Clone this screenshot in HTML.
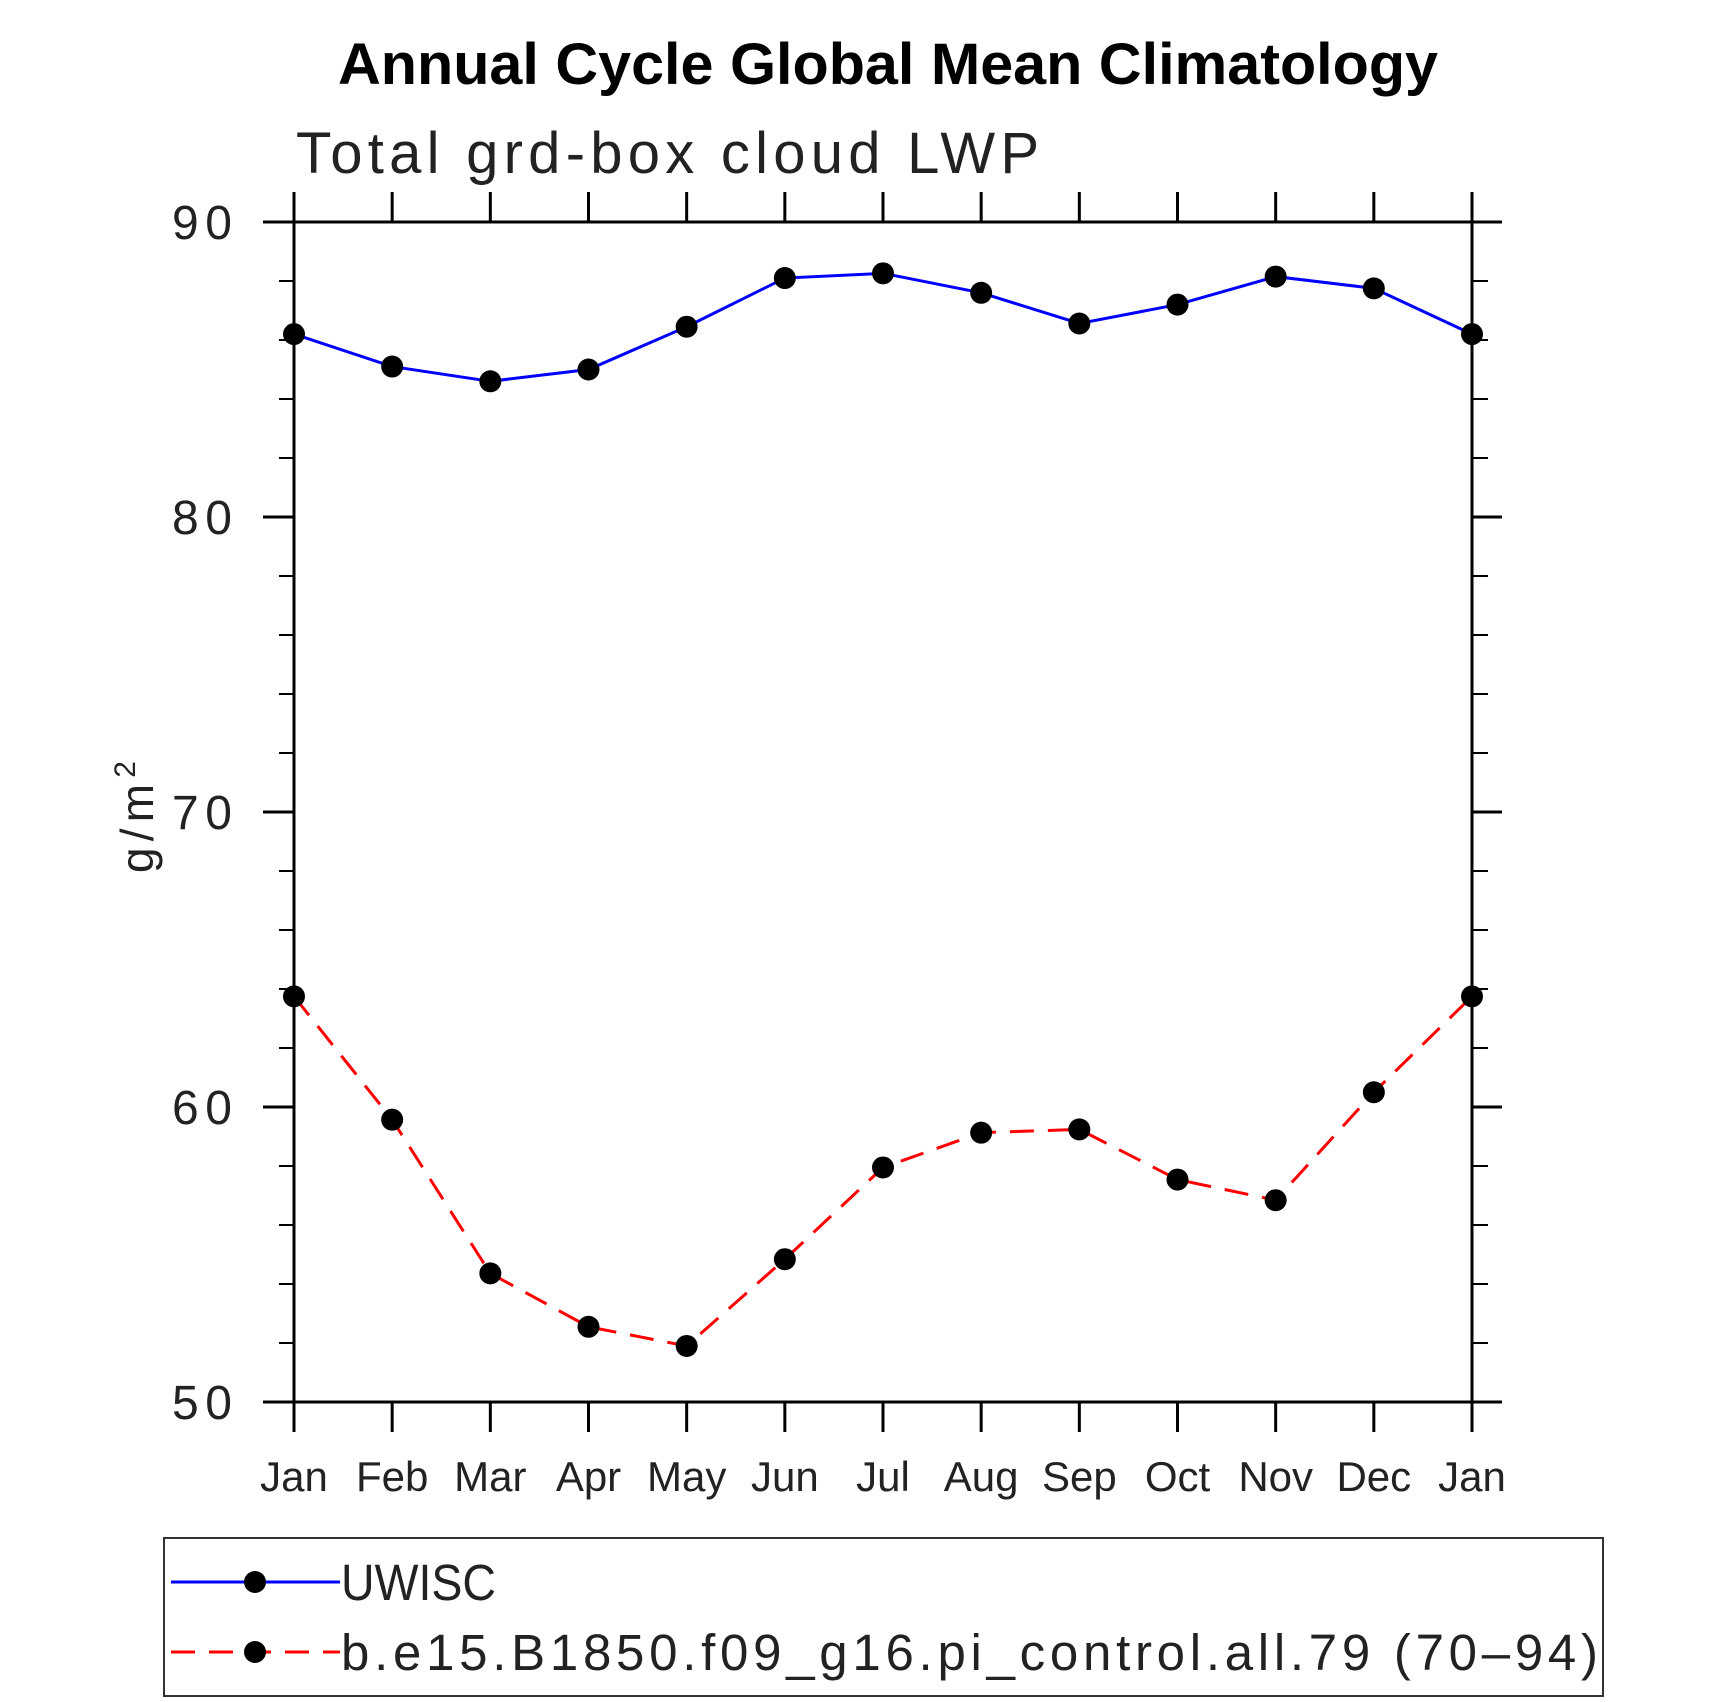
<!DOCTYPE html>
<html><head><meta charset="utf-8"><style>
html,body{margin:0;padding:0;background:#fff;}
svg{display:block;font-family:"Liberation Sans",sans-serif;}
</style></head><body>
<svg id="chart" width="1710" height="1702" viewBox="0 0 1710 1702">
<text x="888" y="84" text-anchor="middle" font-size="58" font-weight="bold" textLength="1100" lengthAdjust="spacingAndGlyphs">Annual Cycle Global Mean Climatology</text>
<text x="296" y="173" font-size="58" fill="#222" textLength="743" lengthAdjust="spacing">Total grd-box cloud LWP</text>
<text transform="translate(153,817) rotate(-90)" text-anchor="middle" font-size="46" fill="#222" textLength="112" lengthAdjust="spacing">g/m<tspan dy="-18" font-size="30">2</tspan></text>
<g id="axes"></g>
<g id="series"></g>
<rect x="164" y="1538" width="1439" height="158" fill="none" stroke="#333" stroke-width="2"/>
<g>
<line x1="171" y1="1582" x2="340" y2="1582" stroke="#0000ff" stroke-width="3"/>
<circle cx="255" cy="1582" r="11" fill="#000"/>
<text x="341" y="1600" font-size="51" fill="#222" textLength="155" lengthAdjust="spacingAndGlyphs">UWISC</text>
</g>
<g>
<line x1="171" y1="1652" x2="340" y2="1652" stroke="#ff0000" stroke-width="3" stroke-dasharray="24,14"/>
<circle cx="255" cy="1652" r="11" fill="#000"/>
<text x="341" y="1670" font-size="51" fill="#222" textLength="1257" lengthAdjust="spacing">b.e15.B1850.f09_g16.pi_control.all.79 (70–94)</text>
</g>
</svg>
<script>
const months = ["Jan","Feb","Mar","Apr","May","Jun","Jul","Aug","Sep","Oct","Nov","Dec","Jan"];
const uwisc = [86.2,85.1,84.6,85.0,86.45,88.1,88.26,87.6,86.56,87.2,88.15,87.75,86.2];
const model = [63.75,59.57,54.36,52.55,51.9,54.84,57.95,59.13,59.24,57.54,56.84,60.5,63.75];
const yTicks = [50,60,70,80,90];
const yMinorTicks = [52,54,56,58,62,64,66,68,72,74,76,78,82,84,86,88];

const NS="http://www.w3.org/2000/svg";
const L=294,R=1472,T=222,B=1402,yMin=50,yMax=90;
const xs=i=>L+(R-L)*i/(months.length-1);
const ys=v=>B-(v-yMin)/(yMax-yMin)*(B-T);
function mk(tag,attrs,parent){const e=document.createElementNS(NS,tag);for(const k in attrs)e.setAttribute(k,attrs[k]);parent.appendChild(e);return e;}
const axes=document.getElementById('axes');
const frame=mk('rect',{x:L,y:T,width:R-L,height:B-T,fill:'none',stroke:'#000','stroke-width':3},axes);


months.forEach((m,i)=>{
  const x=xs(i);
  const t1=mk('line',{x1:x,y1:B,x2:x,y2:B+30,stroke:'#000','stroke-width':3},axes);
  
  
  const t2=mk('line',{x1:x,y1:T,x2:x,y2:T-30,stroke:'#000','stroke-width':3},axes);
  
  
  const lb=mk('text',{x:x,y:1491,'text-anchor':'middle','font-size':42,fill:'#222'},axes);
  lb.textContent=m;
  
  
});
yTicks.forEach(v=>{
  const y=ys(v);
  const a=mk('line',{x1:L-31,y1:y,x2:L,y2:y,stroke:'#000','stroke-width':3},axes);
  
  
  const b=mk('line',{x1:R,y1:y,x2:R+30,y2:y,stroke:'#000','stroke-width':3},axes);
  
  
  const lb=mk('text',{x:232,y:y+17,'text-anchor':'end','font-size':48,fill:'#222',textLength:60,lengthAdjust:'spacing'},axes);
  lb.textContent=v;
  
  
});
yMinorTicks.forEach(v=>{
  const y=ys(v);
  const a=mk('line',{x1:L-15,y1:y,x2:L,y2:y,stroke:'#000','stroke-width':2},axes);
  
  
  const b=mk('line',{x1:R,y1:y,x2:R+16,y2:y,stroke:'#000','stroke-width':2},axes);
  
  
});
const sg=document.getElementById('series');
function drawSeries(vals,color,dash,name){
  const pts=vals.map((v,i)=>xs(i)+','+ys(v)).join(' ');
  const pl=mk('polyline',{points:pts,fill:'none',stroke:color,'stroke-width':3},sg);
  if(dash)pl.setAttribute('stroke-dasharray',dash);
  
  
  vals.forEach((v,i)=>{
    const c=mk('circle',{cx:xs(i),cy:ys(v),r:11,fill:'#000'},sg);
    
    
  });
}
drawSeries(uwisc,'#0000ff',null,'uwisc');
drawSeries(model,'#ff0000','24,14','model');
</script>
</body></html>
